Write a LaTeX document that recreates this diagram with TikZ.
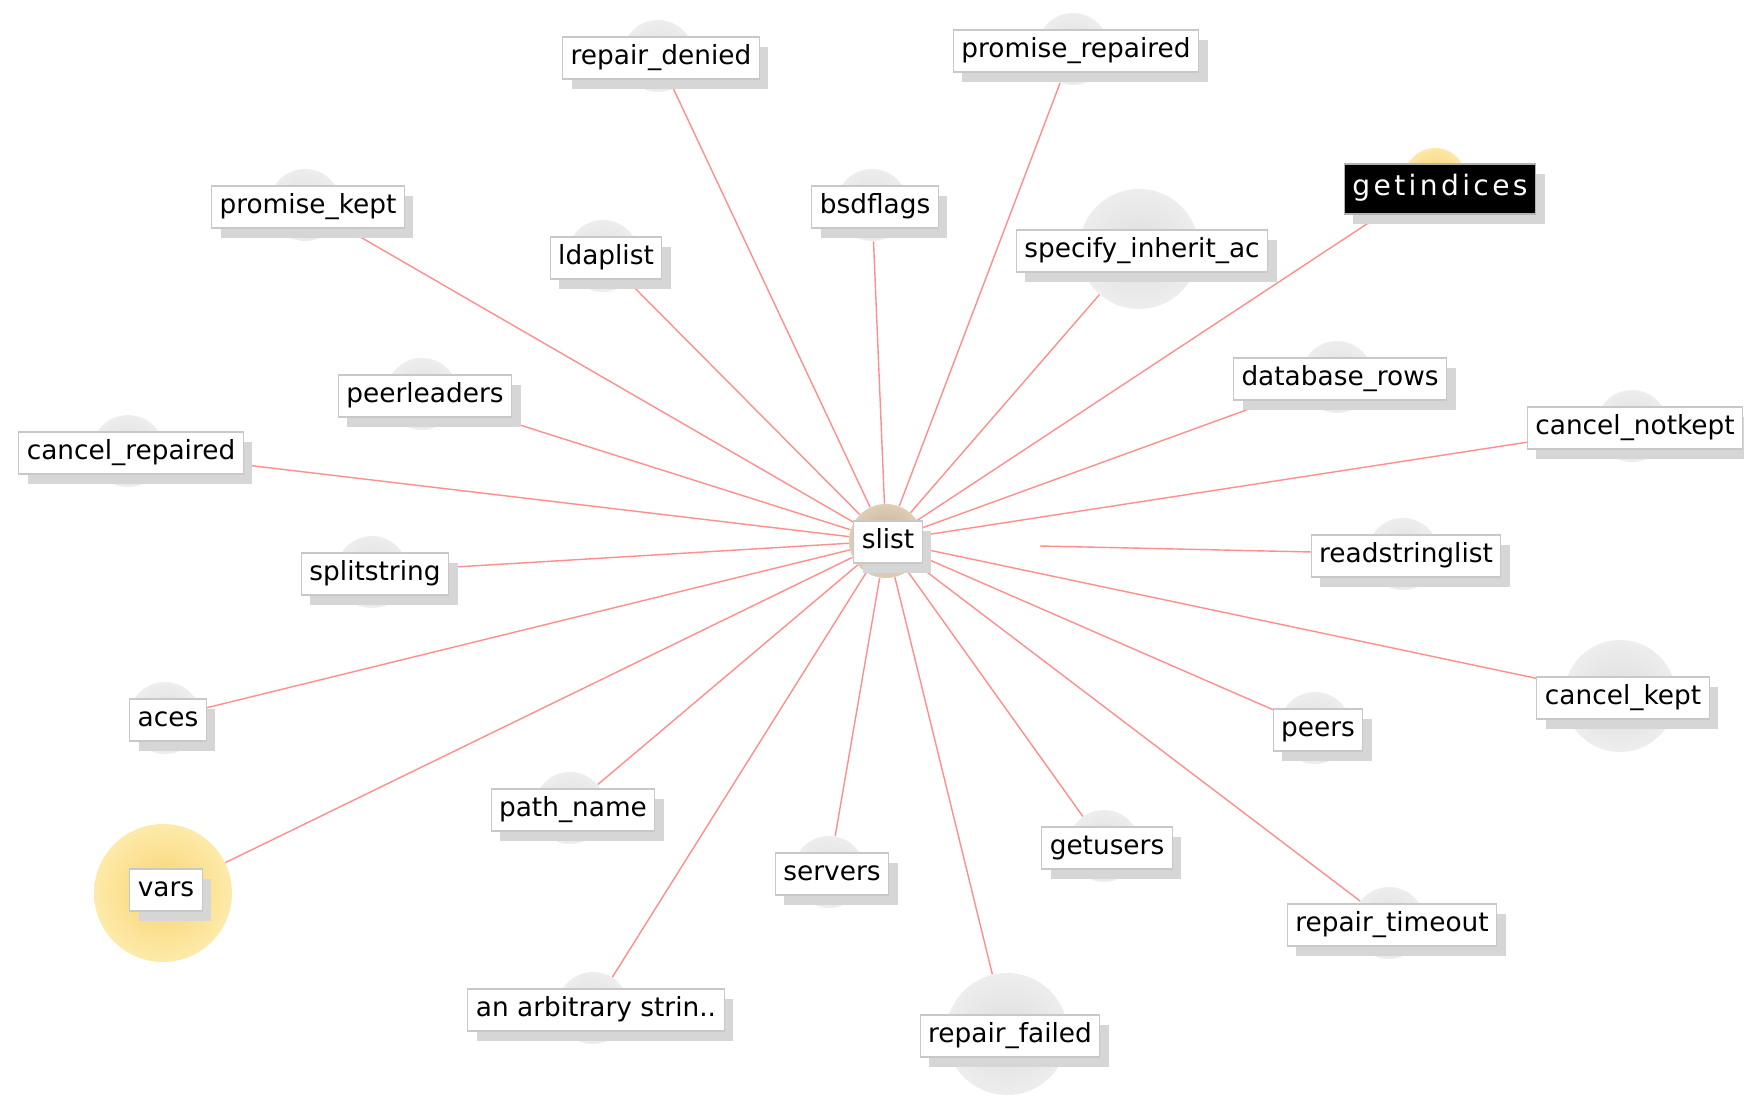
\documentclass[tikz,border=0pt]{standalone}
\usepackage{fontspec}
\setmainfont{DejaVu Sans}
\usetikzlibrary{shadows,backgrounds}
\definecolor{edgered}{HTML}{FF8E8E}
\definecolor{boxline}{HTML}{C8C8C8}
\definecolor{shadowgray}{HTML}{D6D6D6}

\begin{document}
\begin{tikzpicture}[x=0.02cm,y=-0.02cm,
  bubble/.style={circle,inner sep=0pt,minimum size=#1*0.04cm,
    shading=radial,inner color=gray!26,outer color=gray!14},
  bubble/.default=36,
  tag/.style={draw=boxline,fill=white,line width=0.6pt,inner xsep=0.16cm,
    minimum height=0.84cm,text height=11pt,text depth=3.5pt,
    font=\fontsize{15}{18}\selectfont,
    drop shadow={shadow xshift=0.18cm,shadow yshift=-0.2cm,fill=shadowgray,opacity=1}},
  edge/.style={draw=edgered,line width=0.8pt}]
\useasboundingbox (0,0) rectangle (1744,1095);

% centre node
\node[bubble=37,inner color={rgb,255:red,196;green,170;blue,134},outer color={rgb,255:red,222;green,206;blue,182}] (slist) at (886,541) {};
\node[tag] at (888,542) {slist};

% plain nodes
\foreach \n/\x/\y/\r/\t in {
  repairdenied/661/58/36/repair\_denied,
  promiserepaired/1076/51/36/promise\_repaired,
  promisekept/308/207/36/promise\_kept,
  bsdflags/875/207/36/bsdflags,
  ldaplist/606/258/36/ldaplist,
  specify/1142/251/60/specify\_inherit\_ac,
  databaserows/1340/379/36/database\_rows,
  peerleaders/425/396/36/peerleaders,
  cancelrepaired/131/453/36/cancel\_repaired,
  cancelnotkept/1635/428/36/cancel\_notkept,
  splitstring/375/574/36/splitstring,
  readstringlist/1406/556/36/readstringlist,
  aces/168/720/36/aces,
  cancelkept/1623/698/56/cancel\_kept,
  peers/1318/730/36/peers,
  pathname/573/810/36/path\_name,
  servers/832/874/36/servers,
  getusers/1107/848/36/getusers,
  repairtimeout/1392/925/36/repair\_timeout,
  arbitrary/596/1010/36/an arbitrary strin..,
  repairfailed/1010/1036/61/repair\_failed}
{
  \node[bubble=\r] (\n) at (\x-3,\y-2) {};
  \node[tag] at (\x,\y) {\t};
}

% highlighted nodes
\node[bubble=31,inner color={rgb,255:red,248;green,208;blue,104},outer color={rgb,255:red,252;green,232;blue,168}] (getindices) at (1435,179) {};
\node[tag,fill=black,text=white,draw=gray!60,minimum height=1cm,
  font=\fontsize{16}{19}\selectfont\addfontfeature{LetterSpace=12}] at (1440,189) {getindices};
\node[bubble=69,inner color={rgb,255:red,249;green,211;blue,110},outer color={rgb,255:red,253;green,234;blue,170}] (vars) at (163,893) {};
\node[tag] at (166,890) {vars};

\coordinate (rsl-end) at (1040,546);

\begin{scope}[on background layer]
\fill[white] (0,0) rectangle (1744,1095);
\foreach \n in {repairdenied,promiserepaired,promisekept,bsdflags,ldaplist,
  specify,getindices,databaserows,peerleaders,cancelrepaired,cancelnotkept,
  splitstring,aces,cancelkept,peers,pathname,vars,servers,getusers,
  repairtimeout,arbitrary,repairfailed}
  \draw[edge] (slist) -- (\n);
\draw[edge] (readstringlist) -- (rsl-end);
\end{scope}
\end{tikzpicture}
\end{document}
